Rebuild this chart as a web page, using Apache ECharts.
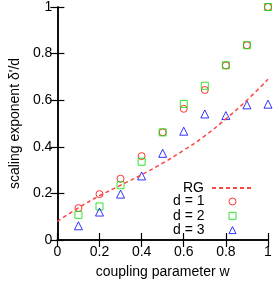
<!DOCTYPE html>
<html><head><meta charset="utf-8">
<script src="https://cdn.jsdelivr.net/npm/echarts@6/dist/echarts.min.js"></script>
<style>html,body{margin:0;padding:0;background:#fff}#c{width:275px;height:286px}</style>
</head><body><div id="c"></div>
<script>
const wValues = [0.1, 0.2, 0.3, 0.4, 0.5, 0.6, 0.7, 0.8, 0.9, 1.0];
const d1Values = [0.137, 0.197, 0.263, 0.360, 0.462, 0.563, 0.644, 0.749, 0.836, 1.0];
const d2Values = [0.108, 0.144, 0.235, 0.336, 0.462, 0.584, 0.662, 0.750, 0.836, 1.0];
const d3Values = [0.061, 0.120, 0.197, 0.275, 0.372, 0.467, 0.541, 0.534, 0.580, 0.583];
const rgW = [0, 0.1, 0.2, 0.3, 0.4, 0.5, 0.6, 0.7, 0.8, 0.9, 1.0];
const rgValues = [0.08, 0.138, 0.19, 0.235, 0.28, 0.33, 0.385, 0.447, 0.52, 0.60, 0.69];
const seriesNames = ['RG', 'd = 1', 'd = 2', 'd = 3'];

const pairs = (xs, ys) => xs.map((x, i) => [x, ys[i]]);
const font = 'Liberation Sans, Arial, Helvetica, sans-serif';
const fmt = v => String(+v.toFixed(1));

const chart = echarts.init(document.getElementById('c'), null, {renderer: 'canvas'});
const axisCommon = {
  type: 'value', min: 0, max: 1, interval: 0.2,
  axisLine: {show: true, lineStyle: {color: '#000', width: 1.5}},
  axisTick: {show: true, inside: true, length: 7, lineStyle: {color: '#000', width: 1.2}},
  splitLine: {show: false}
};
const legendText = {color: '#000', fontSize: 14, fontFamily: font, lineHeight: 12};
chart.setOption({
  animation: false,
  grid: {left: 50, right: 7, top: 6, bottom: 46},
  xAxis: [
    Object.assign({}, axisCommon, {
      position: 'bottom',
      axisLabel: {color: '#000', fontSize: 14, fontFamily: font, margin: 5, formatter: fmt},
      name: 'coupling parameter w', nameLocation: 'middle', nameGap: 32,
      nameTextStyle: {color: '#000', fontSize: 14, fontFamily: font, verticalAlign: 'middle'}
    }),
    Object.assign({}, axisCommon, {position: 'top', axisLabel: {show: false}})
  ],
  yAxis: [
    Object.assign({}, axisCommon, {
      position: 'left',
      axisLabel: {color: '#000', fontSize: 14, fontFamily: font, margin: 5, formatter: fmt},
      name: "scaling exponent δ'/d", nameLocation: 'middle', nameGap: 36,
      nameTextStyle: {color: '#000', fontSize: 14, fontFamily: font, verticalAlign: 'middle'}
    }),
    Object.assign({}, axisCommon, {position: 'right', axisLabel: {show: false}})
  ],
  legend: [
    {
      orient: 'vertical', right: 21, top: 181, align: 'right', padding: 0,
      itemWidth: 41, itemHeight: 8, itemGap: 0,
      itemStyle: {opacity: 0},
      textStyle: Object.assign({padding: [0, 3, 0, 0]}, legendText),
      data: [seriesNames[0]]
    },
    {
      orient: 'vertical', right: 38.5, top: 194.5, align: 'right', padding: 0,
      itemWidth: 7, itemHeight: 7, itemGap: 0.3,
      itemStyle: {borderWidth: 1},
      textStyle: Object.assign({padding: [0, 19.5, 0, 0]}, legendText),
      data: seriesNames.slice(1)
    }
  ],
  series: [
    {name: seriesNames[0], type: 'line', data: pairs(rgW, rgValues), smooth: true, showSymbol: false, symbol: 'none',
     lineStyle: {color: '#ff4444', width: 1.5, type: [4, 3]}, itemStyle: {color: '#ff4444'}},
    {name: seriesNames[1], type: 'scatter', data: pairs(wValues, d1Values), symbol: 'circle', symbolSize: 7, clip: false,
     itemStyle: {color: 'transparent', borderColor: '#ff0000', borderWidth: 1}},
    {name: seriesNames[2], type: 'scatter', data: pairs(wValues, d2Values), symbol: 'rect', symbolSize: 7, clip: false,
     itemStyle: {color: 'transparent', borderColor: '#00dd00', borderWidth: 1}},
    {name: seriesNames[3], type: 'scatter', data: pairs(wValues, d3Values), symbol: 'triangle', symbolSize: 8, clip: false,
     itemStyle: {color: 'transparent', borderColor: '#0000ff', borderWidth: 1}}
  ]
});
</script></body></html>
